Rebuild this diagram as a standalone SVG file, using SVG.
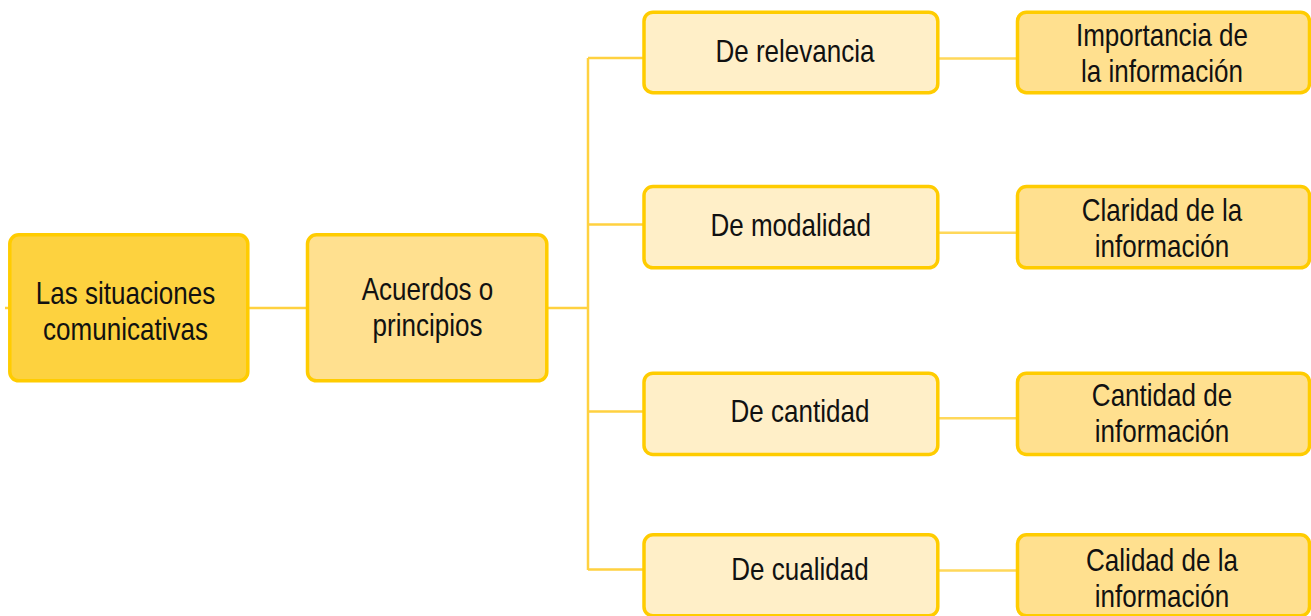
<svg xmlns="http://www.w3.org/2000/svg" width="1311" height="616" viewBox="0 0 1311 616">
<style>
.box{stroke:#FFCC00;stroke-width:3.5}
.n1{fill:#FDD23F}
.n2{fill:#FFE08F}
.n3{fill:#FFEFC8}
.n4{fill:#FFE08F}
.ln{fill:none;stroke:#FFD140;stroke-width:2.5}
.lr{fill:none;stroke:#FFD85A;stroke-width:2.5}
text{font-family:"Liberation Sans",Arial,sans-serif;font-size:31px;fill:#111;text-anchor:middle}
</style>
<rect width="1311" height="616" fill="#fff"/>
<g id="connectors">
<path class="ln" d="M5 308H9M248 308H306M547 308H588M588 58V570M588 58H643M588 224.5H643M588 411.5H643M588 569.5H643"/>
<path class="lr" d="M939 58.5H1016M939 232.7H1016M939 418.3H1016M939 570.5H1016"/>
</g>
<g id="n-situaciones">
<rect class="box n1" x="9.8" y="234.8" width="238" height="146" rx="9"/>
<g transform="translate(125.5,0) scale(0.84,1)"><text x="0" y="304">Las situaciones</text><text x="0" y="340.5">comunicativas</text></g>
</g>
<g id="n-acuerdos">
<rect class="box n2" x="307.5" y="234.8" width="239.3" height="146" rx="9"/>
<g transform="translate(427.5,0) scale(0.84,1)"><text x="0" y="300">Acuerdos o</text><text x="0" y="336">principios</text></g>
</g>
<g id="n-relevancia">
<rect class="box n3" x="644" y="12.2" width="293.8" height="80.5" rx="9"/>
<g transform="translate(795,0) scale(0.84,1)"><text x="0" y="62.3">De relevancia</text></g>
</g>
<g id="n-modalidad">
<rect class="box n3" x="644" y="186.5" width="293.8" height="81.3" rx="9"/>
<g transform="translate(790.7,0) scale(0.84,1)"><text x="0" y="236.5">De modalidad</text></g>
</g>
<g id="n-cantidad">
<rect class="box n3" x="644" y="373.2" width="293.8" height="81.3" rx="9"/>
<g transform="translate(800,0) scale(0.84,1)"><text x="0" y="422.3">De cantidad</text></g>
</g>
<g id="n-cualidad">
<rect class="box n3" x="644" y="534.8" width="293.8" height="81" rx="9"/>
<g transform="translate(800,0) scale(0.84,1)"><text x="0" y="580">De cualidad</text></g>
</g>
<g id="n-importancia">
<rect class="box n4" x="1017.5" y="12.2" width="292" height="80.5" rx="9"/>
<g transform="translate(1162,0) scale(0.84,1)"><text x="0" y="45.7">Importancia de</text><text x="0" y="82.3">la información</text></g>
</g>
<g id="n-claridad">
<rect class="box n4" x="1017.5" y="186.5" width="292" height="81.3" rx="9"/>
<g transform="translate(1162,0) scale(0.84,1)"><text x="0" y="221.5">Claridad de la</text><text x="0" y="257.5">información</text></g>
</g>
<g id="n-cantidad-info">
<rect class="box n4" x="1017.5" y="373.2" width="292" height="81.3" rx="9"/>
<g transform="translate(1162,0) scale(0.84,1)"><text x="0" y="406.5">Cantidad de</text><text x="0" y="442.5">información</text></g>
</g>
<g id="n-calidad">
<rect class="box n4" x="1017.5" y="534.8" width="292" height="81" rx="9"/>
<g transform="translate(1162,0) scale(0.84,1)"><text x="0" y="571">Calidad de la</text><text x="0" y="607.5">información</text></g>
</g>
</svg>
